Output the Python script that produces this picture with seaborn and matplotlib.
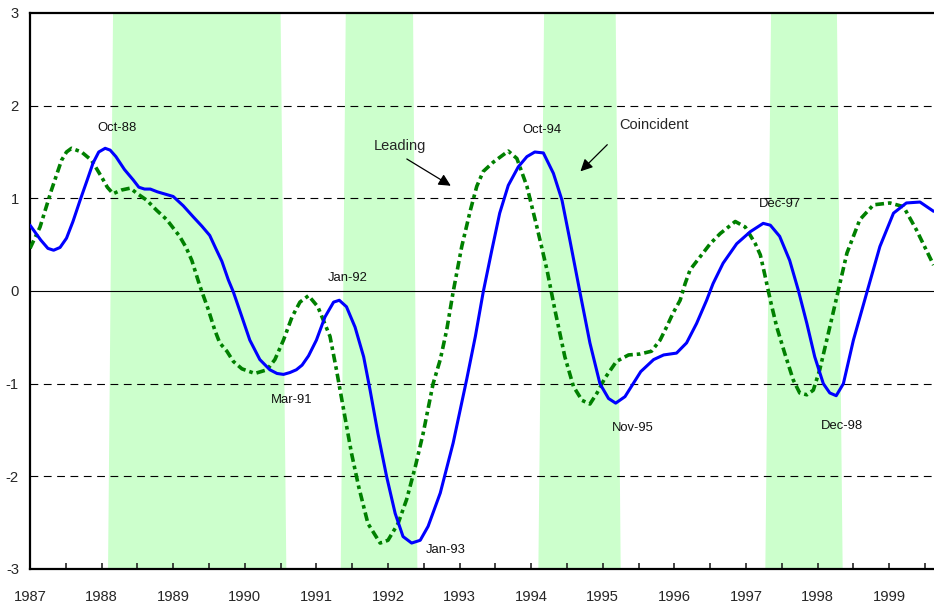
import numpy as np
import pandas as pd
import matplotlib
matplotlib.use("Agg")
import matplotlib.pyplot as plt
from matplotlib.ticker import MultipleLocator
import seaborn as sns

# --- data ---
coincident_year = [1987.00, 1987.15, 1987.25, 1987.33, 1987.42, 1987.51, 1987.60, 1987.70,
                   1987.80, 1987.88, 1987.96, 1988.05, 1988.12, 1988.20, 1988.32, 1988.44,
                   1988.52, 1988.60, 1988.68, 1988.78, 1989.00, 1989.14, 1989.28, 1989.40,
                   1989.51, 1989.60, 1989.68, 1989.77, 1989.84, 1989.96, 1990.07, 1990.21,
                   1990.35, 1990.45, 1990.54, 1990.63, 1990.72, 1990.80, 1990.89, 1991.00,
                   1991.12, 1991.24, 1991.32, 1991.42, 1991.54, 1991.66, 1991.75, 1991.86,
                   1991.98, 1992.10, 1992.21, 1992.33, 1992.45, 1992.56, 1992.73, 1992.91,
                   1993.10, 1993.22, 1993.33, 1993.45, 1993.56, 1993.68, 1993.82, 1993.94,
                   1994.05, 1994.17, 1994.31, 1994.43, 1994.54, 1994.68, 1994.82, 1994.96,
                   1995.08, 1995.18, 1995.31, 1995.53, 1995.71, 1995.85, 1996.03, 1996.17,
                   1996.31, 1996.45, 1996.54, 1996.68, 1996.87, 1997.06, 1997.24, 1997.34,
                   1997.47, 1997.61, 1997.73, 1997.85, 1997.96, 1998.08, 1998.17, 1998.26,
                   1998.36, 1998.50, 1998.69, 1998.87, 1999.06, 1999.24, 1999.43, 1999.62]
coincident_val = [0.71, 0.55, 0.46, 0.44, 0.47, 0.57, 0.75, 0.98,
                  1.20, 1.38, 1.50, 1.54, 1.52, 1.45, 1.31, 1.20,
                  1.12, 1.10, 1.10, 1.07, 1.02, 0.92, 0.80, 0.70,
                  0.60, 0.45, 0.32, 0.12, -0.01, -0.28, -0.53, -0.74,
                  -0.85, -0.89, -0.90, -0.88, -0.85, -0.80, -0.70, -0.53,
                  -0.28, -0.12, -0.10, -0.17, -0.39, -0.71, -1.07, -1.54,
                  -2.00, -2.40, -2.65, -2.72, -2.69, -2.54, -2.18, -1.64,
                  -0.95, -0.49, -0.01, 0.44, 0.84, 1.14, 1.34, 1.45,
                  1.50, 1.49, 1.27, 0.98, 0.55, -0.01, -0.56, -1.00,
                  -1.16, -1.21, -1.14, -0.87, -0.74, -0.69, -0.67, -0.56,
                  -0.35, -0.10, 0.08, 0.30, 0.51, 0.64, 0.73, 0.71,
                  0.59, 0.33, 0.01, -0.35, -0.71, -1.00, -1.10, -1.13,
                  -1.00, -0.53, -0.01, 0.48, 0.84, 0.95, 0.96, 0.86]

leading_year = [1987.00, 1987.14, 1987.30, 1987.44, 1987.51, 1987.58, 1987.72, 1987.86,
                1988.00, 1988.08, 1988.16, 1988.28, 1988.40, 1988.50, 1988.63, 1988.77,
                1988.91, 1989.09, 1989.18, 1989.26, 1989.37, 1989.49, 1989.58, 1989.65,
                1989.75, 1989.84, 1989.96, 1990.14, 1990.31, 1990.42, 1990.54, 1990.66,
                1990.77, 1990.89, 1991.02, 1991.19, 1991.28, 1991.38, 1991.49, 1991.59,
                1991.72, 1991.89, 1992.00, 1992.14, 1992.26, 1992.38, 1992.49, 1992.63,
                1992.73, 1992.82, 1992.91, 1993.03, 1993.15, 1993.24, 1993.33, 1993.47,
                1993.68, 1993.80, 1993.94, 1994.08, 1994.22, 1994.33, 1994.47, 1994.59,
                1994.71, 1994.82, 1994.92, 1995.03, 1995.19, 1995.36, 1995.52, 1995.68,
                1995.80, 1995.89, 1995.98, 1996.08, 1996.15, 1996.22, 1996.36, 1996.50,
                1996.64, 1996.85, 1996.99, 1997.13, 1997.20, 1997.27, 1997.34, 1997.43,
                1997.54, 1997.66, 1997.75, 1997.85, 1997.94, 1998.03, 1998.17, 1998.29,
                1998.41, 1998.59, 1998.78, 1999.01, 1999.20, 1999.38, 1999.62]
leading_val = [0.46, 0.69, 1.09, 1.41, 1.50, 1.54, 1.50, 1.41,
               1.23, 1.12, 1.05, 1.09, 1.11, 1.05, 0.98, 0.87,
               0.77, 0.59, 0.47, 0.33, 0.06, -0.20, -0.42, -0.56,
               -0.65, -0.76, -0.84, -0.89, -0.85, -0.74, -0.53, -0.28,
               -0.12, -0.05, -0.17, -0.49, -0.85, -1.28, -1.75, -2.11,
               -2.51, -2.72, -2.69, -2.51, -2.25, -1.90, -1.54, -1.00,
               -0.74, -0.42, -0.01, 0.48, 0.87, 1.13, 1.29, 1.39,
               1.51, 1.43, 1.13, 0.69, 0.23, -0.20, -0.71, -1.03,
               -1.18, -1.22, -1.10, -0.94, -0.76, -0.69, -0.68, -0.65,
               -0.53, -0.39, -0.24, -0.10, 0.08, 0.23, 0.37, 0.51,
               0.62, 0.75, 0.69, 0.51, 0.39, 0.15, -0.10, -0.39,
               -0.67, -0.96, -1.10, -1.12, -1.07, -0.85, -0.39, 0.01,
               0.41, 0.77, 0.93, 0.95, 0.91, 0.66, 0.28]

# shaded periods (slightly slanted bands: edges at top and at bottom)
band_start_top = [1988.16, 1991.41, 1994.18, 1997.35]
band_end_top = [1990.50, 1992.35, 1995.18, 1998.27]
band_start_bot = [1988.09, 1991.34, 1994.10, 1997.27]
band_end_bot = [1990.58, 1992.41, 1995.25, 1998.35]

# turning point labels
point_labels = ["Oct-88", "Mar-91", "Jan-92", "Jan-93", "Oct-94", "Nov-95", "Dec-97", "Dec-98"]
point_x = [1988.21, 1990.65, 1991.43, 1992.80, 1994.15, 1995.42, 1997.47, 1998.34]
point_y = [1.76, -1.18, 0.14, -2.79, 1.74, -1.48, 0.94, -1.46]

# --- plot ---
sns.set_style("white")
plt.rcParams['font.family'] = ['Liberation Sans', 'DejaVu Sans']
plt.rcParams['axes.unicode_minus'] = False

fig = plt.figure(figsize=(9.34, 6.10), dpi=100)
ax = fig.add_axes([30 / 934, 41 / 610, 1 - 30 / 934, 556 / 610])

ymin, ymax = -3, 3
for s0, s1, b0, b1 in zip(band_start_top, band_end_top, band_start_bot, band_end_bot):
    ax.fill([s0, s1, b1, b0], [ymax, ymax, ymin, ymin], color="#CCFFCC", lw=0, zorder=0)

for yv in [-2, -1, 1, 2]:
    ax.axhline(yv, color="black", lw=0.8, dashes=(7, 5), zorder=1)
ax.axhline(0, color="black", lw=0.8, zorder=1)

df_c = pd.DataFrame({"year": coincident_year, "value": coincident_val})
df_l = pd.DataFrame({"year": leading_year, "value": leading_val})
sns.lineplot(data=df_l, x="year", y="value", color="#008000", lw=2.6, ax=ax,
             estimator=None, zorder=3)
ax.lines[-1].set_dashes((2.4, 1.1, 1.0, 1.1))
sns.lineplot(data=df_c, x="year", y="value", color="#0000FF", lw=2.2, ax=ax,
             estimator=None, zorder=4)
for ln in ax.lines[-2:]:
    ln.set_solid_joinstyle("round")
    ln.set_dash_joinstyle("round")

for lab, xx, yy in zip(point_labels, point_x, point_y):
    ax.text(xx, yy, lab, fontsize=9.4, ha="center", va="center", color="#111111")

ax.annotate("", xy=(1992.91, 1.12), xytext=(1992.23, 1.44),
            arrowprops=dict(arrowstyle="-|>", color="black", lw=0.9, mutation_scale=18))
ax.text(1992.17, 1.56, "Leading", fontsize=10.5, ha="center", va="center")
ax.annotate("", xy=(1994.66, 1.27), xytext=(1995.09, 1.60),
            arrowprops=dict(arrowstyle="-|>", color="black", lw=0.9, mutation_scale=18))
ax.text(1995.72, 1.79, "Coincident", fontsize=10.5, ha="center", va="center")

ax.set_xlim(1987, 1987 + 904 / 71.6)
ax.set_ylim(ymin, ymax)
ax.xaxis.set_major_locator(MultipleLocator(1))
ax.xaxis.set_minor_locator(MultipleLocator(0.5))
ax.xaxis.set_major_formatter(plt.FuncFormatter(lambda v, p: f"{int(round(v))}"))
ax.yaxis.set_major_locator(MultipleLocator(1))
ax.tick_params(axis="x", which="both", direction="in", length=4, width=1.2,
               labelsize=10.6, pad=15, bottom=True)
ax.tick_params(axis="y", direction="in", length=0, labelsize=10.6, pad=8)
ax.set_xlabel("")
ax.set_ylabel("")
for side in ["left", "bottom", "top"]:
    ax.spines[side].set_linewidth(1.6)
    ax.spines[side].set_color("black")
ax.spines["right"].set_visible(False)

plt.savefig("out.png", dpi=100)
